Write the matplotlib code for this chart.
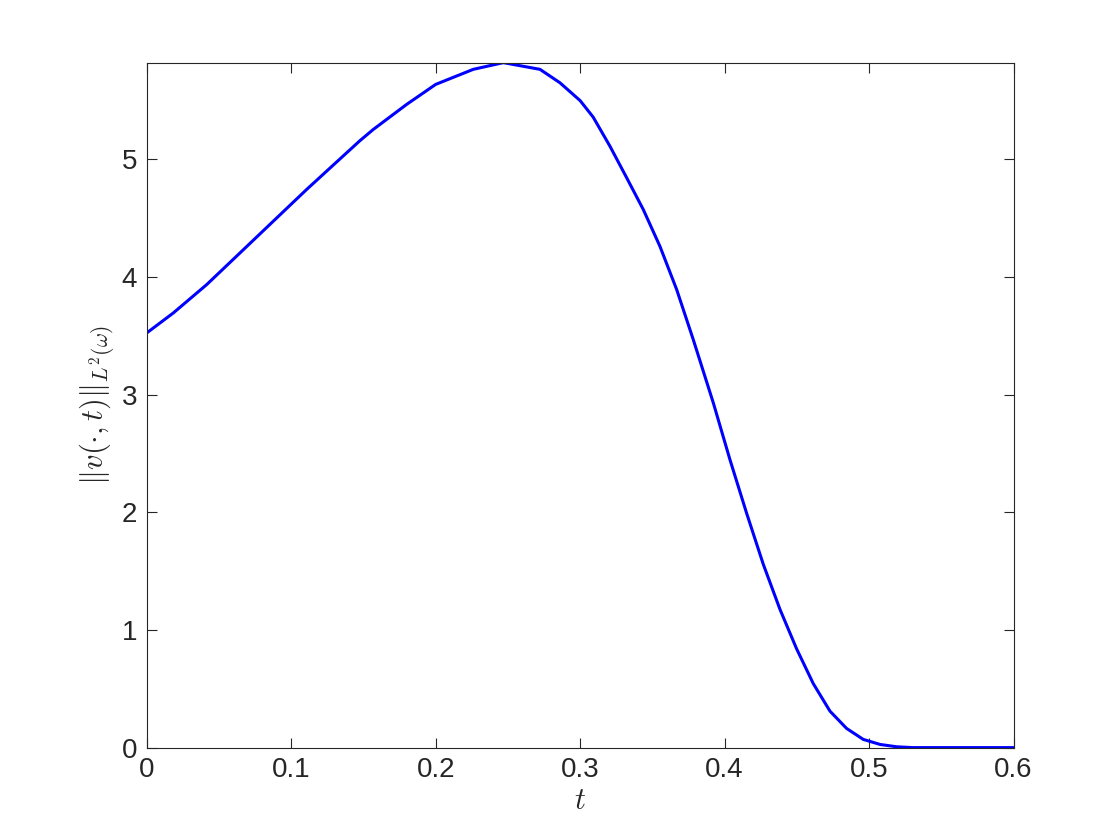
import numpy as np
import matplotlib
matplotlib.use("Agg")
import matplotlib.pyplot as plt

# values
t = [0.0, 0.0184, 0.0415, 0.0646, 0.0876, 0.1107, 0.1338, 0.1476, 0.1568,
     0.1799, 0.2, 0.226, 0.2468, 0.2722, 0.286, 0.3, 0.309, 0.3206,
     0.3322, 0.3437, 0.3552, 0.3668, 0.3783, 0.3922, 0.4037, 0.4152, 0.4267,
     0.4383, 0.4498, 0.4613, 0.4729, 0.4844, 0.4959, 0.5075, 0.519, 0.530,
     0.56, 0.6]
v_norm = [3.525, 3.695, 3.936, 4.206, 4.475, 4.745, 5.005, 5.16, 5.255,
          5.468, 5.638, 5.766, 5.823, 5.766, 5.652, 5.50, 5.36, 5.113,
          4.844, 4.574, 4.262, 3.894, 3.468, 2.929, 2.447, 1.993, 1.56,
          1.175, 0.84, 0.545, 0.31, 0.163, 0.07, 0.027, 0.007, 0.0,
          0.0, 0.0]

plt.rcParams['font.family'] = ['Liberation Sans', 'DejaVu Sans']
plt.rcParams['mathtext.fontset'] = 'cm'

fig = plt.figure(figsize=(11.2, 8.4), dpi=100)
ax = fig.add_axes([0.131, 0.110, 0.774, 0.815])

ax.plot(t, v_norm, color='#0000ff', lw=2.2, solid_joinstyle='round')

ax.set_xlim(0, 0.6)
ax.set_ylim(0, 5.82)
ax.set_xticks([0, 0.1, 0.2, 0.3, 0.4, 0.5, 0.6])
ax.set_xticklabels(['0', '0.1', '0.2', '0.3', '0.4', '0.5', '0.6'])
ax.set_yticks([0, 1, 2, 3, 4, 5])

grey = '#262626'
ax.tick_params(direction='in', top=True, right=True, length=7, width=0.8,
               labelsize=20, colors=grey, pad=7)
for s in ax.spines.values():
    s.set_color(grey)
    s.set_linewidth(0.8)

ax.set_xlabel(r'$t$', fontsize=22, color=grey, labelpad=2)
ax.set_ylabel(r'$\|v(\cdot,t)\|_{L^2(\omega)}$', fontsize=22, color=grey, labelpad=4)

fig.savefig('out.png', dpi=100)
